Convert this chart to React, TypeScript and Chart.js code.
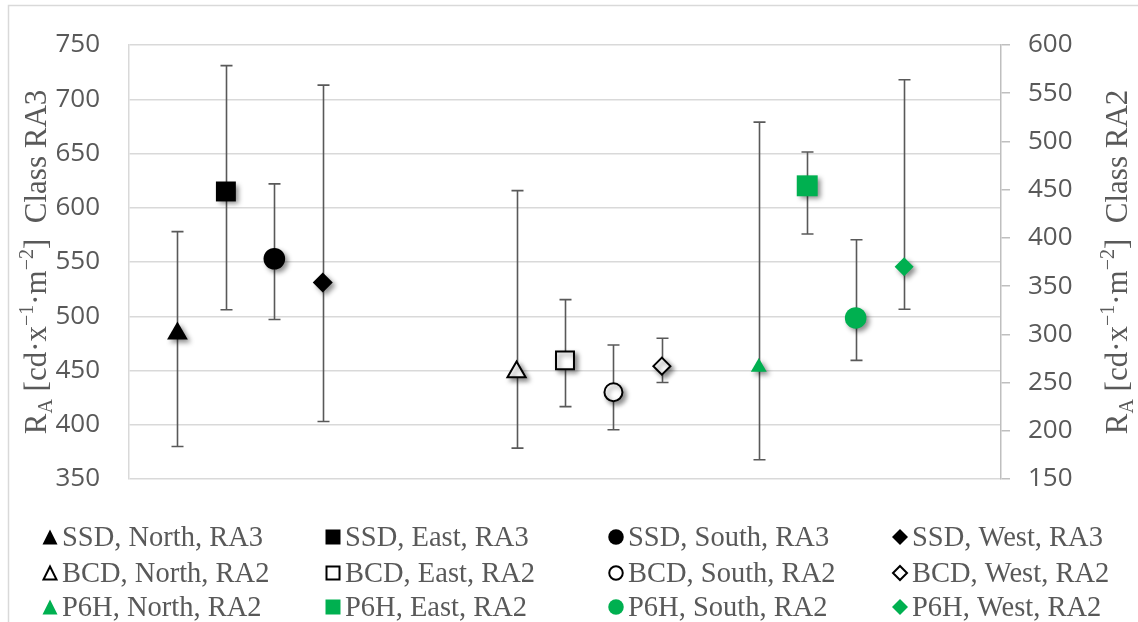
import React, { useEffect, useRef } from 'react';
import { Chart, registerables } from 'chart.js';

Chart.register(...registerables);

// ---- data ----
const groups = ['SSD', 'BCD', 'P6H'];
const directions = ['North', 'East', 'South', 'West'];
const groupClass = ['RA3', 'RA2', 'RA2'];
const xPositions = [1, 2, 3, 4, 8, 9, 10, 11, 13, 14, 15, 16];

const ssdMean = [484, 615, 553, 531];
const ssdLow = [380, 506, 497, 403];
const ssdHigh = [578, 731, 622, 713];

const bcdMean = [261, 273, 240, 267];
const bcdLow = [182, 225, 201, 250];
const bcdHigh = [449, 336, 289, 296];

const p6hMean = [266, 454, 317, 370];
const p6hLow = [170, 404, 273, 326];
const p6hHigh = [520, 489, 398, 564];

const leftMin = 350;
const leftMax = 750;
const rightMin = 150;
const rightMax = 600;
const tickStep = 50;

// ---- styles ----
const shapes = ['triangle', 'rect', 'circle', 'rectRot'];
const GREEN = '#00B050';
const TEXT = '#595959';
const radii = [
  [12, 14.1, 10.8, 10],
  [10.5, 12.7, 9, 8.5],
  [9.2, 14.8, 10.8, 9.5],
];

const means = [ssdMean, bcdMean, p6hMean];
const lows = [ssdLow, bcdLow, p6hLow];
const highs = [ssdHigh, bcdHigh, p6hHigh];

type Seg = { t: string; k: 'n' | 'sub' | 'sup' };
function titleSegs(cls: string): Seg[] {
  return [
    { t: 'R', k: 'n' },
    { t: 'A', k: 'sub' },
    { t: ' [cd\u00B7x', k: 'n' },
    { t: '\u22121', k: 'sup' },
    { t: '\u00B7m', k: 'n' },
    { t: '\u22122', k: 'sup' },
    { t: ']  Class ' + cls, k: 'n' },
  ];
}

function drawRichVertical(ctx: CanvasRenderingContext2D, segs: Seg[], baseX: number, centerY: number, size: number) {
  const small = Math.round(size * 0.66);
  const fontFor = (k: string) => `${k === 'n' ? size : small}px 'Liberation Serif', 'Times New Roman', serif`;
  let total = 0;
  const widths: number[] = [];
  segs.forEach((s) => {
    ctx.font = fontFor(s.k);
    const w = ctx.measureText(s.t).width;
    widths.push(w);
    total += w;
  });
  ctx.save();
  ctx.translate(baseX, centerY);
  ctx.rotate(-Math.PI / 2);
  ctx.fillStyle = TEXT;
  ctx.textBaseline = 'alphabetic';
  ctx.textAlign = 'left';
  let x = -total / 2;
  segs.forEach((s, i) => {
    ctx.font = fontFor(s.k);
    let dy = 0;
    if (s.k === 'sub') dy = size * 0.18;
    if (s.k === 'sup') dy = -size * 0.42;
    ctx.fillText(s.t, x, dy);
    x += widths[i];
  });
  ctx.restore();
}

function drawMarker(ctx: CanvasRenderingContext2D, shape: string, cx: number, cy: number, s: number, fill: string, stroke: string | null) {
  ctx.beginPath();
  if (shape === 'triangle') {
    ctx.moveTo(cx, cy - s / 2);
    ctx.lineTo(cx + s / 2, cy + s / 2);
    ctx.lineTo(cx - s / 2, cy + s / 2);
    ctx.closePath();
  } else if (shape === 'rect') {
    ctx.rect(cx - s / 2, cy - s / 2, s, s);
  } else if (shape === 'circle') {
    ctx.arc(cx, cy, s / 2, 0, Math.PI * 2);
  } else {
    ctx.moveTo(cx, cy - s / 2);
    ctx.lineTo(cx + s / 2, cy);
    ctx.lineTo(cx, cy + s / 2);
    ctx.lineTo(cx - s / 2, cy);
    ctx.closePath();
  }
  ctx.fillStyle = fill;
  ctx.fill();
  if (stroke) {
    ctx.strokeStyle = stroke;
    ctx.lineWidth = 2;
    ctx.stroke();
  }
}

const legendColX = [42, 325, 608, 892];
const legendRowBaseline = [546, 582, 616];

const decorPlugin = {
  id: 'decor',
  beforeDraw(chart: any) {
    const ctx = chart.ctx as CanvasRenderingContext2D;
    ctx.save();
    ctx.strokeStyle = '#d9d9d9';
    ctx.lineWidth = 1.5;
    ctx.beginPath();
    ctx.moveTo(8.5, 700);
    ctx.lineTo(8.5, 5.5);
    ctx.lineTo(1200, 5.5);
    ctx.stroke();
    ctx.restore();
  },
  beforeDatasetsDraw(chart: any) {
    const ctx = chart.ctx as CanvasRenderingContext2D;
    const xs = chart.scales.x;
    ctx.save();
    ctx.strokeStyle = TEXT;
    ctx.lineWidth = 1.6;
    for (let g = 0; g < 3; g++) {
      const ys = chart.scales[g === 0 ? 'yL' : 'yR'];
      for (let d = 0; d < 4; d++) {
        const px = Math.round(xs.getPixelForValue(xPositions[g * 4 + d])) + 0.5;
        const top = ys.getPixelForValue(highs[g][d]);
        const bot = ys.getPixelForValue(lows[g][d]);
        ctx.beginPath();
        ctx.moveTo(px, top);
        ctx.lineTo(px, bot);
        ctx.moveTo(px - 6, top);
        ctx.lineTo(px + 6, top);
        ctx.moveTo(px - 6, bot);
        ctx.lineTo(px + 6, bot);
        ctx.stroke();
      }
    }
    ctx.restore();
  },
  beforeDatasetDraw(chart: any) {
    const ctx = chart.ctx as CanvasRenderingContext2D;
    ctx.save();
    ctx.shadowColor = 'rgba(0,0,0,0.45)';
    ctx.shadowBlur = 5;
    ctx.shadowOffsetX = 3;
    ctx.shadowOffsetY = 3;
  },
  afterDatasetDraw(chart: any) {
    chart.ctx.restore();
  },
  afterDraw(chart: any) {
    const ctx = chart.ctx as CanvasRenderingContext2D;
    const area = chart.chartArea;
    const cy = (area.top + area.bottom) / 2;
    drawRichVertical(ctx, titleSegs('RA3'), 46, cy, 31);
    drawRichVertical(ctx, titleSegs('RA2'), 1127, cy, 31);

    // legend
    ctx.save();
    for (let g = 0; g < 3; g++) {
      for (let d = 0; d < 4; d++) {
        const x0 = legendColX[d];
        const base = legendRowBaseline[g];
        const cy2 = base - 9;
        const shape = shapes[d];
        const size = shape === 'rectRot' ? 16 : shape === 'circle' ? 15.5 : 15;
        const fill = g === 0 ? '#000' : g === 1 ? '#fff' : GREEN;
        drawMarker(ctx, shape, x0 + 8, cy2, g === 1 ? size - 2 : size, fill, g === 1 ? '#000' : null);
        ctx.fillStyle = TEXT;
        ctx.font = "28.5px 'Liberation Serif', 'Times New Roman', serif";
        ctx.textBaseline = 'alphabetic';
        ctx.textAlign = 'left';
        ctx.fillText(`${groups[g]}, ${directions[d]}, ${groupClass[g]}`, x0 + 20, base);
      }
    }
    ctx.restore();
  },
};

export default function App() {
  const ref = useRef<HTMLCanvasElement | null>(null);
  useEffect(() => {
    if (!ref.current) return;
    const datasets: any[] = [];
    for (let g = 0; g < 3; g++) {
      for (let d = 0; d < 4; d++) {
        const isBCD = g === 1;
        const color = g === 2 ? GREEN : '#000000';
        datasets.push({
          label: `${groups[g]}, ${directions[d]}, ${groupClass[g]}`,
          data: [{ x: xPositions[g * 4 + d], y: means[g][d] }],
          yAxisID: g === 0 ? 'yL' : 'yR',
          pointStyle: shapes[d],
          pointRadius: radii[g][d],
          backgroundColor: isBCD ? '#ffffff' : color,
          borderColor: color,
          borderWidth: isBCD ? 2 : 0,
          showLine: false,
          clip: false,
        });
      }
    }
    const chart = new Chart(ref.current, {
      type: 'scatter',
      data: { datasets },
      options: {
        responsive: false,
        animation: false,
        events: [],
        layout: { padding: { top: 45, bottom: 143, left: 0, right: 0 } },
        plugins: { legend: { display: false }, tooltip: { enabled: false } },
        scales: {
          x: { type: 'linear', min: 0, max: 18, display: false },
          yL: {
            type: 'linear',
            position: 'left',
            min: leftMin,
            max: leftMax,
            ticks: {
              stepSize: tickStep,
              color: TEXT,
              padding: 29,
              font: { family: "'Open Sans', sans-serif", size: 26 },
            },
            grid: { color: '#d9d9d9', lineWidth: 1.5, drawTicks: false },
            border: { display: true, color: '#d9d9d9', width: 1.5 },
            afterFit: (s: any) => {
              s.width = 129;
            },
          },
          yR: {
            type: 'linear',
            position: 'right',
            min: rightMin,
            max: rightMax,
            ticks: {
              stepSize: tickStep,
              color: TEXT,
              padding: 18,
              font: { family: "'Open Sans', sans-serif", size: 26 },
            },
            grid: { drawOnChartArea: false, drawTicks: true, tickLength: 9, color: '#bfbfbf', lineWidth: 1.5 },
            border: { display: true, color: '#bfbfbf', width: 1.5 },
            afterFit: (s: any) => {
              s.width = 137;
            },
          },
        },
      } as any,
      plugins: [decorPlugin],
    });
    return () => chart.destroy();
  }, []);
  return (
    <div style={{ position: 'absolute', left: 0, top: 0, width: 1138, height: 622, background: '#fff' }}>
      <canvas ref={ref} width={1138} height={622} style={{ width: 1138, height: 622, display: 'block' }} />
    </div>
  );
}
